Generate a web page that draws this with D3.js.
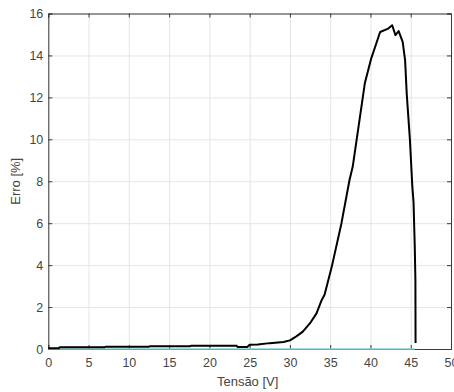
<!DOCTYPE html>
<html>
<head>
<meta charset="utf-8">
<script src="https://cdn.jsdelivr.net/npm/d3@7"></script>
<style>
  body { margin: 0; background: #fff; }
  svg { display: block; font-family: "Liberation Sans", Arial, sans-serif; }
</style>
</head>
<body>
<div id="chart"></div>
<script>
// data
const tensao = [0, 1.3, 1.4, 7, 7.1, 12.5, 12.6, 17.6, 17.7, 23.4, 23.5, 24.7, 25, 26, 27.5, 29.2, 30, 30.8, 31.6, 32.5, 33.3, 33.9, 34.3, 35.2, 36.4, 37.4, 37.8, 39.3, 40.1, 41.2, 42.2, 42.7, 43.1, 43.5, 44.0, 44.3, 44.5, 44.9, 45.2, 45.35, 45.5, 45.58, 45.6];
const erro   = [0.03, 0.03, 0.08, 0.08, 0.11, 0.11, 0.13, 0.13, 0.15, 0.15, 0.1, 0.1, 0.2, 0.22, 0.28, 0.33, 0.41, 0.6, 0.83, 1.23, 1.7, 2.3, 2.59, 3.93, 6.0, 8.06, 8.7, 12.67, 13.86, 15.12, 15.28, 15.44, 14.97, 15.16, 14.65, 13.78, 12.19, 9.97, 7.74, 7.0, 4.89, 3.3, 0.29];
const refX = [0, 45.5];
const refY = [0, 0];
const xTicks = [0, 5, 10, 15, 20, 25, 30, 35, 40, 45, 50];
const yTicks = [0, 2, 4, 6, 8, 10, 12, 14, 16];

const dimensions = {
  width: 454, height: 392,
  marginTop: 13.5, marginRight: 3, marginBottom: 43, marginLeft: 48.3
};
dimensions.boundedWidth = dimensions.width - dimensions.marginLeft - dimensions.marginRight;
dimensions.boundedHeight = dimensions.height - dimensions.marginTop - dimensions.marginBottom;

const wrapper = d3.select("#chart").append("svg")
  .attr("width", dimensions.width)
  .attr("height", dimensions.height);

const bounds = wrapper.append("g")
  .attr("transform", `translate(${dimensions.marginLeft}, ${dimensions.marginTop})`);

const xScale = d3.scaleLinear().domain([0, 50]).range([0, dimensions.boundedWidth]);
const yScale = d3.scaleLinear().domain([0, 16]).range([dimensions.boundedHeight, 0]);

// grid
bounds.append("g")
  .attr("class", "grid")
  .attr("transform", `translate(0, ${dimensions.boundedHeight})`)
  .call(d3.axisBottom(xScale).tickValues(xTicks).tickSize(-dimensions.boundedHeight).tickFormat(""));
bounds.append("g")
  .attr("class", "grid")
  .call(d3.axisLeft(yScale).tickValues(yTicks).tickSize(-dimensions.boundedWidth).tickFormat(""));
bounds.selectAll(".grid .domain").remove();
bounds.selectAll(".grid line").attr("stroke", "#e4e4e4");

// axes (box style, ticks inward)
const axisColor = "#3a3a3a";
const xAxis = bounds.append("g")
  .attr("class", "axis")
  .attr("transform", `translate(0, ${dimensions.boundedHeight})`)
  .call(d3.axisBottom(xScale).tickValues(xTicks).tickSize(-4).tickPadding(9));
const yAxis = bounds.append("g")
  .attr("class", "axis")
  .call(d3.axisLeft(yScale).tickValues(yTicks).tickSize(-4).tickPadding(5));
bounds.append("g")
  .attr("class", "axis")
  .call(d3.axisTop(xScale).tickValues(xTicks).tickSize(-4).tickFormat(""));
bounds.append("g")
  .attr("class", "axis")
  .attr("transform", `translate(${dimensions.boundedWidth}, 0)`)
  .call(d3.axisRight(yScale).tickValues(yTicks).tickSize(-4).tickFormat(""));
bounds.selectAll(".axis .domain, .axis .tick line").attr("stroke", axisColor);
bounds.selectAll(".axis .tick text").attr("fill", "#454545").style("font-size", "12.5px");

// lines
const line = d3.line()
  .x(d => xScale(d[0]))
  .y(d => yScale(d[1]));

bounds.append("path")
  .attr("d", line(refX.map((v, i) => [v, refY[i]])))
  .attr("fill", "none")
  .attr("stroke", "#82d0dc")
  .attr("stroke-width", 1.6);

bounds.append("path")
  .attr("d", line(tensao.map((v, i) => [v, erro[i]])))
  .attr("fill", "none")
  .attr("stroke", "#000")
  .attr("stroke-width", 2)
  .attr("stroke-linejoin", "round");

// axis labels
wrapper.append("text")
  .attr("x", dimensions.marginLeft + dimensions.boundedWidth / 2 - 2)
  .attr("y", 386)
  .attr("text-anchor", "middle")
  .attr("fill", "#454545")
  .style("font-size", "13px")
  .text("Tensão [V]");
wrapper.append("text")
  .attr("transform", `translate(20, ${dimensions.marginTop + dimensions.boundedHeight / 2}) rotate(-90)`)
  .attr("text-anchor", "middle")
  .attr("fill", "#454545")
  .style("font-size", "13px")
  .text("Erro [%]");
</script>
</body>
</html>
